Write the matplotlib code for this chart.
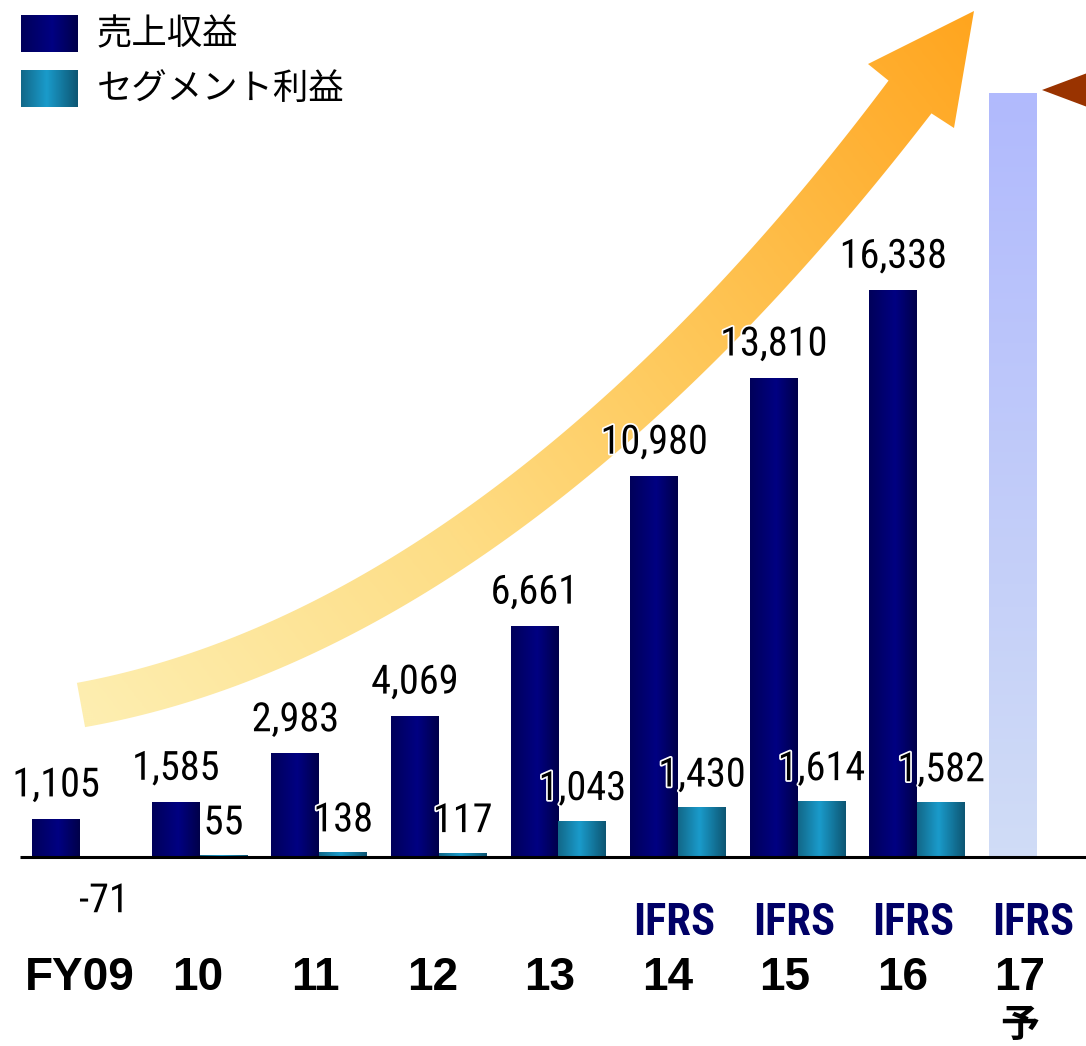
import matplotlib
matplotlib.use("Agg")
import matplotlib.pyplot as plt
import numpy as np
from matplotlib.colors import LinearSegmentedColormap
from matplotlib.patches import Polygon, Rectangle
import matplotlib.patheffects as pe

# ---- data ----
years = ["FY09", "10", "11", "12", "13", "14", "15", "16", "17"]
revenue = [1105, 1585, 2983, 4069, 6661, 10980, 13810, 16338]
segment_profit = [-71, 55, 138, 117, 1043, 1430, 1614, 1582]
forecast_revenue = 22000          # FY17 forecast bar (unlabelled)
ifrs_years = ["14", "15", "16", "17"]
legend_labels = ["売上収益", "セグメント利益"]

W, H = 1086, 1046
fig = plt.figure(figsize=(W / 100, H / 100), dpi=100, facecolor="white")

# overlay axes in pixel units (decorations behind the bars)
ov = fig.add_axes([0, 0, 1, 1], zorder=0)
ov.set_xlim(0, W)
ov.set_ylim(H, 0)
ov.axis("off")

ax = fig.add_axes([0, 0, 1, 1], zorder=1)
ax.patch.set_alpha(0)
ax.axis("off")
ax.set_xlim(-0.6689, 8.4114)
ax.set_ylim(-5446, 24694)

narrow = ["Roboto Condensed", "DejaVu Sans"]
cjk = ["Noto Sans CJK JP", "DejaVu Sans"]

navy_cmap = LinearSegmentedColormap.from_list(
    "navy", [(0, "#00005a"), (0.55, "#000082"), (1, "#00004a")])
teal_cmap = LinearSegmentedColormap.from_list(
    "teal", [(0, "#126889"), (0.45, "#1a9bcb"), (1, "#0d5673")])
fc_cmap = LinearSegmentedColormap.from_list(
    "fc", [(0, "#d0dcf6"), (1, "#b1bafd")])
arrow_cmap = LinearSegmentedColormap.from_list(
    "arr", [(0, "#fdeeb0"), (0.35, "#fedd85"), (0.6, "#fec95c"),
            (0.85, "#ffb236"), (1, "#ffa51e")])


def grad(axis, patch, cmap, x0, x1, y0, y1, vertical=False):
    g = np.linspace(0, 1, 64)
    img = g.reshape(-1, 1) if vertical else g.reshape(1, -1)
    im = axis.imshow(img, cmap=cmap, extent=(x0, x1, y0, y1), aspect="auto",
                     origin="lower", interpolation="bilinear",
                     zorder=patch.get_zorder())
    im.set_clip_path(patch)


# ---- curved orange arrow ----
P = np.array([[81, 705], [481, 633], [788, 257], [910, 97]], float)
t = np.linspace(0, 1, 200)[:, None]
curve = ((1 - t) ** 3) * P[0] + 3 * ((1 - t) ** 2) * t * P[1] + \
    3 * (1 - t) * t ** 2 * P[2] + t ** 3 * P[3]
d = np.gradient(curve, axis=0)
d /= np.linalg.norm(d, axis=1)[:, None]
n = np.column_stack([d[:, 1], -d[:, 0]])
hw = 22.5 + 4.5 * t
upper = curve + n * hw
lower = curve - n * hw
head = np.array([[868, 64], [974, 11], [954, 128]])
arrow = Polygon(np.vstack([upper, head, lower[::-1]]), closed=True,
                facecolor="none", edgecolor="none")
ov.add_patch(arrow)
xx, yy = np.meshgrid(np.arange(0, W, 2), np.arange(0, H, 2))
a0, a1 = np.array([81, 705]), np.array([974, 11])
v = (a1 - a0) / np.linalg.norm(a1 - a0) ** 2
tt = np.clip((xx - a0[0]) * v[0] + (yy - a0[1]) * v[1], 0, 1)
im = ov.imshow(tt, cmap=arrow_cmap, extent=(0, W, H, 0), aspect="auto",
               interpolation="bilinear", zorder=1)
im.set_clip_path(arrow)

# ---- brown pointer triangle at the top right ----
ov.add_patch(Polygon([[1042, 90], [1090, 72], [1090, 108]], closed=True,
                     facecolor="#993300", edgecolor="none"))

# ---- legend ----
for k, (lab, cm) in enumerate(zip(legend_labels, [navy_cmap, teal_cmap])):
    y0 = 15 + k * 55
    sq = Rectangle((21, y0), 57, 37, facecolor="none", edgecolor="none")
    ov.add_patch(sq)
    grad(ov, sq, cm, 21, 78, y0 + 37, y0)
    ov.text(97, y0 + 19, lab, fontsize=25.5, family=cjk, va="center",
            ha="left", color="black")

# ---- bars ----
x = np.arange(len(revenue))
bw = 0.4
rev_bars = ax.bar(x - bw / 2, revenue, bw, color="none", zorder=3)
seg_bars = ax.bar(x + bw / 2, segment_profit, bw, color="none", zorder=3)
fc_bar = ax.bar([len(revenue) - bw / 2], [forecast_revenue], bw,
                color="none", zorder=3)[0]

for b in rev_bars:
    grad(ax, b, navy_cmap, b.get_x(), b.get_x() + b.get_width(),
         0, b.get_height())
for b in seg_bars:
    y0, y1 = sorted([0, b.get_height()])
    grad(ax, b, teal_cmap, b.get_x(), b.get_x() + b.get_width(), y0, y1)
grad(ax, fc_bar, fc_cmap, fc_bar.get_x(), fc_bar.get_x() + fc_bar.get_width(),
     0, forecast_revenue, vertical=True)

ax.plot([-0.5, 8.42], [0, 0], color="black", lw=2.2, zorder=4,
        solid_capstyle="butt")

halo = [pe.withStroke(linewidth=2.5, foreground="white")]
for b, val in zip(rev_bars, revenue):
    ax.annotate(f"{val:,}", (b.get_x() + b.get_width() / 2, val),
                xytext=(0, 16), textcoords="offset points", ha="center",
                va="baseline", fontsize=29, family=narrow, zorder=6,
                path_effects=halo)
for b, val in zip(seg_bars, segment_profit):
    off = 15 if val >= 0 else -38
    ax.annotate(f"{val:,}", (b.get_x() + b.get_width() / 2, val),
                xytext=(0, off), textcoords="offset points", ha="center",
                va="baseline", fontsize=29, family=narrow, zorder=6,
                path_effects=halo)

# ---- category labels ----
for i, yr in enumerate(years):
    ax.annotate(yr, (i * 0.982, 0), xytext=(0, -95.8), textcoords="offset points",
                ha="center", va="baseline", fontsize=33, fontweight="bold",
                family=["Liberation Sans", "DejaVu Sans"], color="black")
for yr in ifrs_years:
    i = years.index(yr)
    ax.annotate("IFRS", (i - 0.03, 0), xytext=(0, -56), textcoords="offset points",
                ha="center", va="baseline", fontsize=32, fontweight="bold",
                family=narrow, color="#000066")
ax.annotate("予", (8 * 0.982, 0), xytext=(0, -121), textcoords="offset points",
            ha="center", va="center", fontsize=28, fontweight="bold",
            family=cjk, color="black")

fig.savefig("out.png", dpi=100, facecolor="white")
